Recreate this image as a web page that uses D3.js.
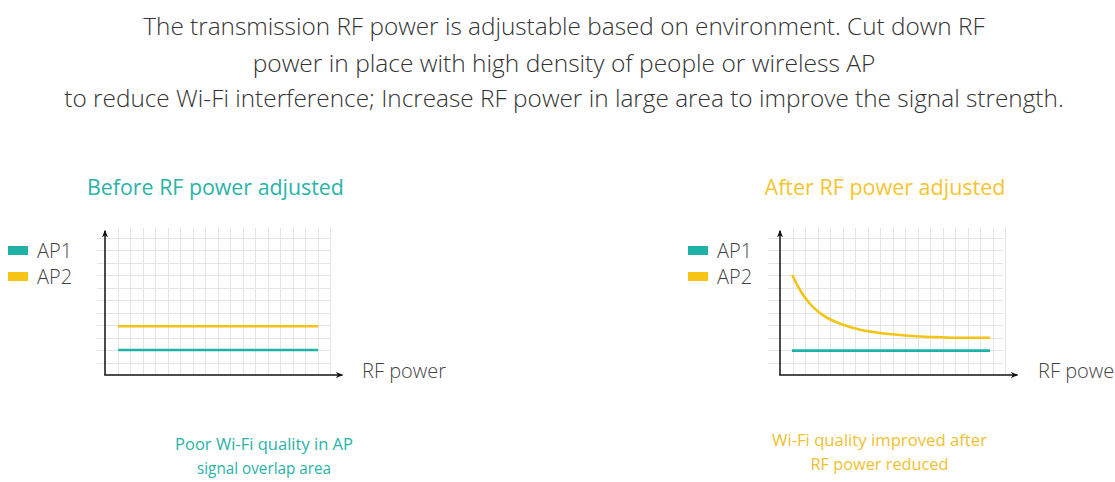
<!DOCTYPE html>
<html lang='en'>
<head>
    <meta charset='UTF-8'>
    <title>RF power adjustment</title>
    <script src='https://cdn.jsdelivr.net/npm/d3@7/dist/d3.min.js'></script>
    <style>
        body { margin: 0; background: #fff; }
        svg text { font-family: 'Open Sans', 'Noto Sans', sans-serif; }
        .grid line { stroke: #e5e5e5; stroke-width: 1; shape-rendering: crispEdges; }
        .grid path { stroke-width: 0; }
        .axis-line { stroke: #111; stroke-width: 1.5; }
        .series { fill: none; stroke-width: 2.6; stroke-linecap: butt; }
    </style>
</head>
<body>
<script>
    // ---- data (grid cell units) ----
    const headline = [
        'The transmission RF power is adjustable based on environment. Cut down RF',
        'power in place with high density of people or wireless AP',
        'to reduce Wi-Fi interference; Increase RF power in large area to improve the signal strength.'
    ];
    const legendLabels = ['AP1', 'AP2'];
    const axisLabel = 'RF power';

    const beforeTitle = 'Before RF power adjusted';
    const beforeCaption = ['Poor Wi-Fi quality in AP', 'signal overlap area'];
    const beforeX = [1.05, 17.05];
    const beforeAP1 = [2.0, 2.0];
    const beforeAP2 = [3.9, 3.9];

    const afterTitle = 'After RF power adjusted';
    const afterCaption = ['Wi-Fi quality improved after', 'RF power reduced'];
    const afterAP1X = [0.96, 16.8];
    const afterAP1 = [1.95, 1.95];
    const afterAP2X = [0.98, 1.6, 2.26, 3.06, 4.0, 4.94, 6.26, 7.6, 8.94, 10.26, 11.6, 12.94, 14.26, 16.8];
    const afterAP2 = [8.0, 6.8, 5.86, 5.06, 4.46, 4.06, 3.66, 3.42, 3.26, 3.14, 3.06, 3.02, 2.98, 2.98];

    const teal = '#1fb3a8';
    const yellow = '#f5c414';

    const W = 1115, H = 482;
    const svg = d3.select('body').append('svg').attr('width', W).attr('height', H);

    svg.append('defs').append('marker')
        .attr('id', 'arrow')
        .attr('viewBox', '0 0 10 10')
        .attr('refX', 9).attr('refY', 5)
        .attr('markerWidth', 5).attr('markerHeight', 5)
        .attr('markerUnits', 'strokeWidth')
        .attr('orient', 'auto')
        .append('path')
        .attr('d', 'M0,1 L10,5 L0,9 L3,5 Z')
        .attr('fill', '#111');

    // fit a text element to a target width by changing its font size
    function fitWidth(sel, target) {
        const fs = parseFloat(sel.style('font-size'));
        const len = sel.node().getComputedTextLength();
        sel.style('font-size', (fs * target / len) + 'px');
    }

    // headline
    const head = svg.append('g');
    const headWidths = [842, 623, 1000];
    const headBase = [35, 71.5, 107];
    headline.forEach((t, i) => {
        const tx = head.append('text')
            .attr('x', 564).attr('y', headBase[i])
            .attr('text-anchor', 'middle')
            .style('font-size', '24px')
            .style('font-weight', 300)
            .attr('fill', '#333')
            .text(t);
        fitWidth(tx, headWidths[i]);
    });

    function panel(opt) {
        const x = d3.scaleLinear().domain([0, 19]).range([0, 237.5]);
        const y = d3.scaleLinear().domain([0, 12]).range([0, -150]);
        const g = svg.append('g').attr('transform', `translate(${opt.ox}, ${opt.oy})`);

        // grid
        g.append('g')
            .attr('class', 'grid')
            .attr('transform', `translate(0, ${y(0)})`)
            .call(d3.axisBottom(x).tickValues(d3.range(1, 19)).tickSize(-(y(0) - y(11.8))).tickFormat(''));
        g.append('g')
            .attr('class', 'grid')
            .attr('transform', `translate(${x(opt.gridRight)}, 0)`)
            .call(d3.axisLeft(y).tickValues(d3.range(1, 12)).tickSize(x(opt.gridRight) - x(opt.gridLeft)).tickFormat(''));

        // axes
        g.append('line').attr('class', 'axis-line')
            .attr('x1', x(0)).attr('y1', y(0)).attr('x2', x(0)).attr('y2', y(11.55))
            .attr('marker-end', 'url(#arrow)');
        g.append('line').attr('class', 'axis-line')
            .attr('x1', x(0) - 0.75).attr('y1', y(0)).attr('x2', x(19)).attr('y2', y(0))
            .attr('marker-end', 'url(#arrow)');

        // series
        const line = d3.line().x(d => x(d[0])).y(d => y(d[1])).curve(d3.curveMonotoneX);
        opt.series.forEach(s => {
            g.append('path')
                .datum(d3.zip(s.x, s.v))
                .attr('class', 'series')
                .attr('stroke', s.color)
                .attr('d', line);
        });

        // axis label
        svg.append('text')
            .attr('x', opt.ox + opt.labelDx).attr('y', opt.oy + 2.5)
            .style('font-size', '20px').style('font-weight', 300)
            .attr('fill', '#444')
            .text(axisLabel);

        // legend
        const colors = [teal, yellow];
        legendLabels.forEach((l, i) => {
            svg.append('rect')
                .attr('x', opt.ox - opt.legendDx).attr('y', 246 + i * 26)
                .attr('width', 20).attr('height', 9)
                .attr('fill', colors[i]);
            svg.append('text')
                .attr('x', opt.ox - opt.legendDx + 29).attr('y', 258 + i * 26)
                .style('font-size', '20px').style('font-weight', 300)
                .attr('fill', '#444')
                .text(l);
        });

        // title
        const tt = svg.append('text')
            .attr('x', opt.titleX).attr('y', 195)
            .attr('text-anchor', 'middle')
            .style('font-size', '20px')
            .attr('fill', opt.titleColor)
            .text(opt.title);
        fitWidth(tt, opt.titleWidth);

        // caption
        opt.caption.forEach((c, i) => {
            svg.append('text')
                .attr('x', opt.capX).attr('y', opt.capY + i * 23.5)
                .attr('text-anchor', 'middle')
                .style('font-size', '16.5px')
                .attr('textLength', opt.capWidths[i])
                .attr('lengthAdjust', 'spacingAndGlyphs')
                .attr('fill', opt.capColor)
                .text(c);
        });
    }

    panel({
        ox: 105, oy: 375, gridLeft: -0.65, gridRight: 18,
        labelDx: 257, legendDx: 97,
        series: [
            { x: beforeX, v: beforeAP2, color: yellow },
            { x: beforeX, v: beforeAP1, color: teal }
        ],
        title: beforeTitle, titleX: 215.5, titleWidth: 257, titleColor: '#2ab3a7',
        caption: beforeCaption, capX: 264, capY: 450, capWidths: [178, 134], capColor: '#2ab3a7'
    });

    panel({
        ox: 780, oy: 375, gridLeft: -0.95, gridRight: 17.85,
        labelDx: 258, legendDx: 92,
        series: [
            { x: afterAP2X, v: afterAP2, color: yellow },
            { x: afterAP1X, v: afterAP1, color: teal }
        ],
        title: afterTitle, titleX: 885, titleWidth: 241, titleColor: '#f5c431',
        caption: afterCaption, capX: 879.5, capY: 446, capWidths: [215, 138], capColor: '#f0c030'
    });
</script>
</body>
</html>
